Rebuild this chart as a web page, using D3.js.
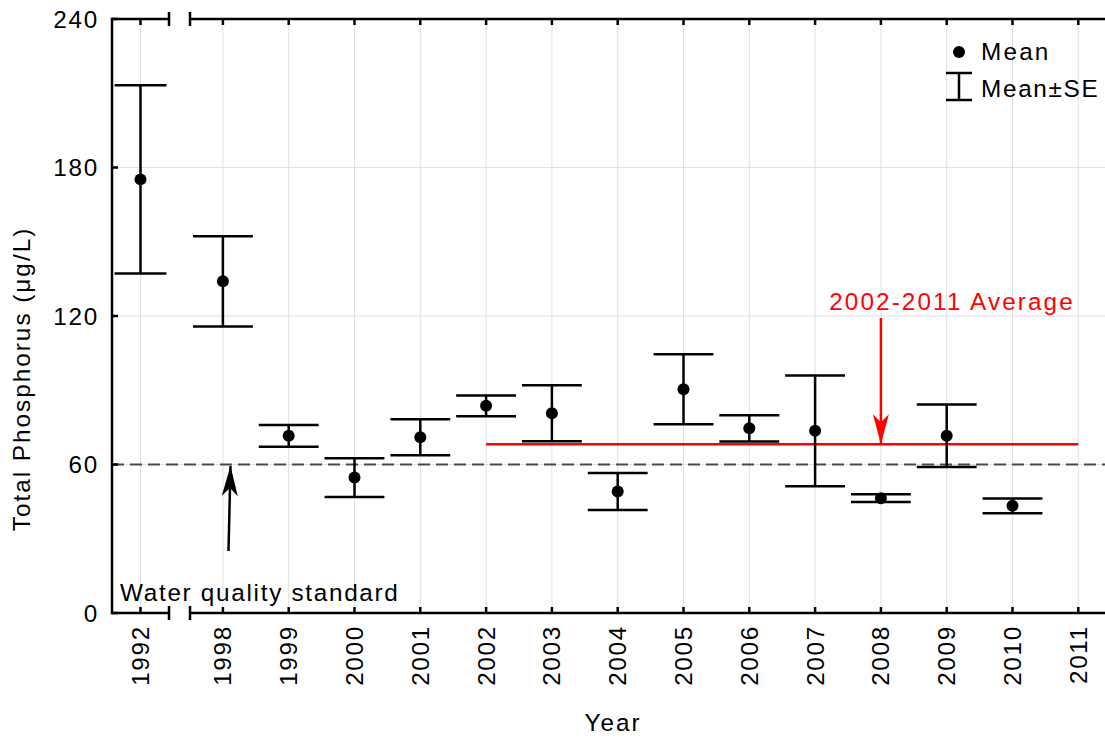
<!DOCTYPE html>
<html><head><meta charset="utf-8">
<script src="https://cdn.jsdelivr.net/npm/d3@7"></script>
<style>
body{margin:0;background:#fff;}
text{font-family:"Liberation Sans",Arial,sans-serif;}
</style></head>
<body>
<svg id="chart" width="1105" height="738"></svg>
<script>
const years = ["1992","1998","1999","2000","2001","2002","2003","2004","2005","2006","2007","2008","2009","2010","2011"];
const means = [175.2,134,71.6,54.7,71,83.7,80.7,49.1,90.4,74.6,73.6,46.4,71.6,43.3,null];
const ses   = [38,18.2,4.4,7.8,7.3,4.2,11.3,7.5,14.1,5.3,22.4,1.6,12.6,3.0,null];
const yTicks = [0,60,120,180,240];
const standard = 60;
const average = 68.2;
const avgStart = "2002", avgEnd = "2011", avgArrowAt = "2008";

(function(){
const svg = d3.select("#chart");
const yTop = 19, yBot = 613, xL = 112;
const y = d3.scaleLinear().domain([0,240]).range([yBot, yTop]);
const xLeft = d3.scaleBand().domain(years.slice(0,1)).range([112,169]);
const xRight = d3.scaleBand().domain(years.slice(1)).range([190,190+14*65.8]);
const xc = yr => yr === "1992" ? xLeft(yr)+xLeft.bandwidth()/2 : xRight(yr)+xRight.bandwidth()/2;
const bw = yr => yr === "1992" ? xLeft.bandwidth() : xRight.bandwidth();
const FS = 24.3, LS = "1.7px";

// grid
const g = svg.append("g");
years.forEach(yr => {
  g.append("line").attr("x1",xc(yr)).attr("x2",xc(yr)).attr("y1",yTop).attr("y2",yBot)
   .attr("stroke","#e0e0e0").attr("stroke-width",1);
});
[60,120,180].forEach(v => {
  g.append("line").attr("x1",xL).attr("x2",1105).attr("y1",y(v)).attr("y2",y(v))
   .attr("stroke","#e0e0e0").attr("stroke-width",1);
});

// dashed standard line
svg.append("line").attr("x1",xL).attr("x2",1105).attr("y1",y(standard)).attr("y2",y(standard))
  .attr("stroke","#4a4a4a").attr("stroke-width",2.2).attr("stroke-dasharray","12,6");

// average line
svg.append("line").attr("x1",xc(avgStart)).attr("x2",xc(avgEnd)).attr("y1",y(average)).attr("y2",y(average))
  .attr("stroke","#ff0000").attr("stroke-width",2.5);

// axes frame
const ax = svg.append("g").attr("stroke","#000").attr("stroke-width",2.5).attr("fill","none");
ax.append("line").attr("x1",xL).attr("x2",xL).attr("y1",yTop-1.2).attr("y2",yBot+1.2);
[yTop,yBot].forEach(yy => {
  ax.append("line").attr("x1",xL).attr("x2",169).attr("y1",yy).attr("y2",yy);
  ax.append("line").attr("x1",190).attr("x2",1105).attr("y1",yy).attr("y2",yy);
  ax.append("line").attr("x1",169).attr("x2",169).attr("y1",yy-7).attr("y2",yy+7);
  ax.append("line").attr("x1",190).attr("x2",190).attr("y1",yy-7).attr("y2",yy+7);
});
years.forEach(yr => {
  ax.append("line").attr("x1",xc(yr)).attr("x2",xc(yr)).attr("y1",yTop).attr("y2",yTop+6);
  ax.append("line").attr("x1",xc(yr)).attr("x2",xc(yr)).attr("y1",yBot).attr("y2",yBot-6);
});
yTicks.forEach(v => {
  ax.append("line").attr("x1",xL).attr("x2",xL+6).attr("y1",y(v)).attr("y2",y(v));
});

// tick labels
yTicks.forEach(v => {
  svg.append("text").attr("x",xL-13).attr("y",y(v)+8.5).attr("text-anchor","end")
    .attr("font-size",FS).attr("letter-spacing",LS).text(v);
});
years.forEach(yr => {
  svg.append("text").attr("transform",`translate(${xc(yr)+8.5},${yBot+12}) rotate(-90)`)
    .attr("text-anchor","end").attr("font-size",FS).attr("letter-spacing",LS).text(yr);
});

// titles
svg.append("text").attr("x",613).attr("y",731).attr("text-anchor","middle")
  .attr("font-size",FS).attr("letter-spacing","2px").text("Year");
svg.append("text").attr("transform","translate(30,379) rotate(-90)").attr("text-anchor","middle")
  .attr("font-size",FS).attr("letter-spacing","2px").text("Total Phosphorus (μg/L)");

// error bars + means
const data = years.map((yr,i)=>({yr, m:means[i], se:ses[i]})).filter(d=>d.m!=null);
const eb = svg.append("g").attr("stroke","#000").attr("stroke-width",2.5);
data.forEach(d => {
  const cx = xc(d.yr), hw = bw(d.yr)*0.455;
  eb.append("line").attr("x1",cx).attr("x2",cx).attr("y1",y(d.m+d.se)).attr("y2",y(d.m-d.se));
  eb.append("line").attr("x1",cx-hw).attr("x2",cx+hw).attr("y1",y(d.m+d.se)).attr("y2",y(d.m+d.se));
  eb.append("line").attr("x1",cx-hw).attr("x2",cx+hw).attr("y1",y(d.m-d.se)).attr("y2",y(d.m-d.se));
});
svg.append("g").selectAll("circle").data(data).join("circle")
  .attr("cx",d=>xc(d.yr)).attr("cy",d=>y(d.m)).attr("r",6).attr("fill","#000");

// arrows
function arrow(x1,y1,x2,y2,color){
  svg.append("line").attr("x1",x1).attr("y1",y1).attr("x2",x2).attr("y2",y2)
    .attr("stroke",color).attr("stroke-width",2.5);
  const ang = Math.atan2(y2-y1,x2-x1);
  const L=30, W=8, N=22;
  const pt=(a,b)=>[x2+a*Math.cos(ang)-b*Math.sin(ang), y2+a*Math.sin(ang)+b*Math.cos(ang)];
  const pts=[pt(0,0),pt(-L,W),pt(-N,0),pt(-L,-W)];
  svg.append("path").attr("d","M"+pts.map(p=>p.join(",")).join("L")+"Z").attr("fill",color);
}
arrow(228.5,551,230.5,466,"#000");
arrow(xc(avgArrowAt),318,xc(avgArrowAt),y(average),"#ff0000");

// annotations
svg.append("text").attr("x",120).attr("y",601).attr("font-size",FS).attr("letter-spacing",LS)
  .text("Water quality standard");
svg.append("text").attr("x",952).attr("y",310).attr("text-anchor","middle").attr("font-size",FS)
  .attr("letter-spacing","2.1px").attr("fill","#ff0000").text("2002-2011 Average");

// legend
svg.append("circle").attr("cx",959).attr("cy",52).attr("r",6).attr("fill","#000");
svg.append("text").attr("x",981).attr("y",60).attr("font-size",FS).attr("letter-spacing","2.2px").text("Mean");
const lg = svg.append("g").attr("stroke","#000").attr("stroke-width",2.5);
lg.append("line").attr("x1",959).attr("x2",959).attr("y1",73).attr("y2",100);
lg.append("line").attr("x1",946).attr("x2",972).attr("y1",73).attr("y2",73);
lg.append("line").attr("x1",946).attr("x2",972).attr("y1",100).attr("y2",100);
svg.append("text").attr("x",981).attr("y",97).attr("font-size",FS).attr("letter-spacing",LS).text("Mean±SE");
})();
</script>
</body></html>
